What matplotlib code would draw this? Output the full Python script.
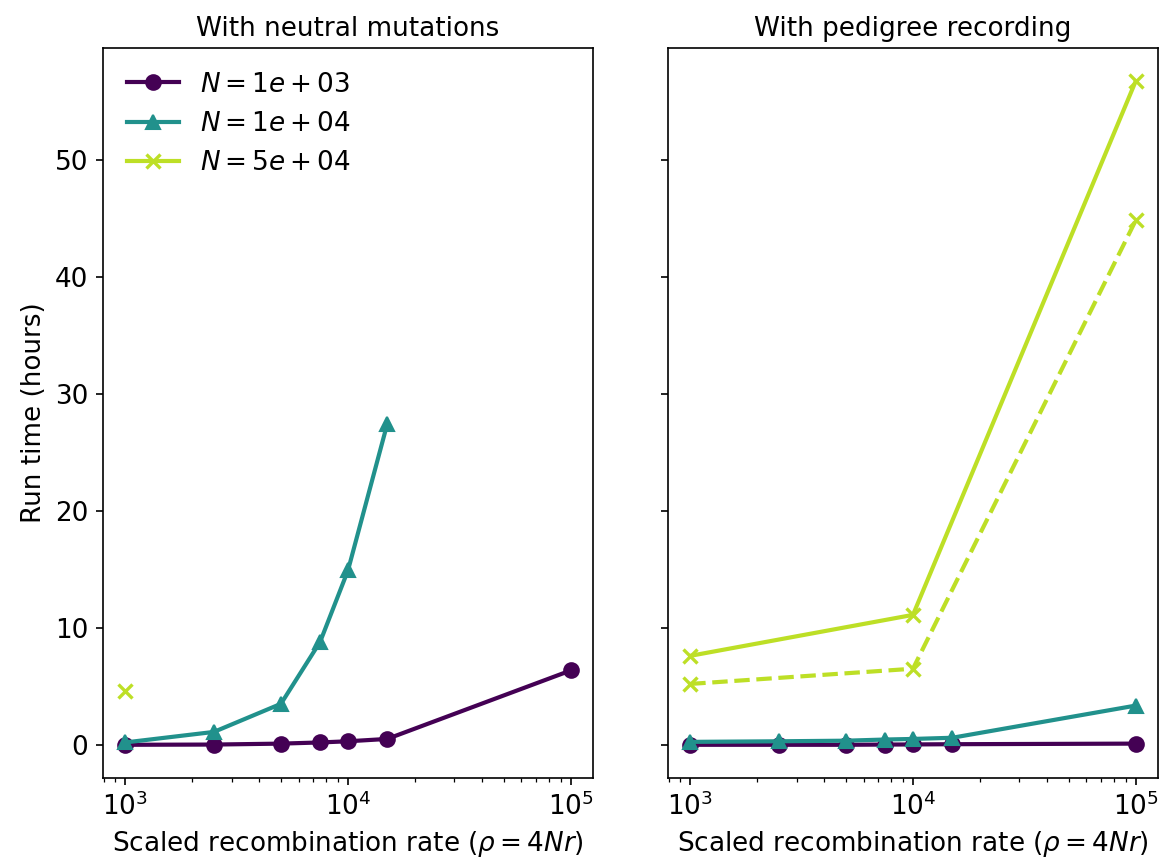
import matplotlib
matplotlib.use("Agg")
import matplotlib.pyplot as plt

rho = [1000, 2500, 5000, 7500, 10000, 15000, 100000]

# Left panel: with neutral mutations
left_n1e3 = [0.0, 0.02, 0.1, 0.2, 0.3, 0.5, 6.35]
left_n1e4_x = [1000, 2500, 5000, 7500, 10000, 15000]
left_n1e4 = [0.2, 1.1, 3.5, 8.8, 14.9, 27.4]
left_n5e4_x = [1000]
left_n5e4 = [4.6]

# Right panel: with pedigree recording
right_n1e3 = [0.0, 0.0, 0.0, 0.02, 0.03, 0.05, 0.1]
right_n1e4 = [0.25, 0.3, 0.35, 0.45, 0.5, 0.6, 3.35]
right_n5e4_x = [1000, 10000, 100000]
right_n5e4 = [7.6, 11.1, 56.7]
right_n5e4_dashed = [5.2, 6.5, 44.8]

labels = [r"$N = 1e+03$", r"$N = 1e+04$", r"$N = 5e+04$"]
colors = ["#440154", "#21918c", "#bddf26"]
markers = ["o", "^", "x"]
titles = ["With neutral mutations", "With pedigree recording"]

fs = 12.6
fig, axes = plt.subplots(1, 2, figsize=(7.74, 5.767), dpi=150, sharey=True)
lw = 2
ms = 7
mew = 1.6

ax = axes[0]
ax.plot(rho, left_n1e3, color=colors[0], marker=markers[0], lw=lw, ms=ms, label=labels[0])
ax.plot(left_n1e4_x, left_n1e4, color=colors[1], marker=markers[1], lw=lw, ms=ms, label=labels[1])
ax.plot(left_n5e4_x, left_n5e4, color=colors[2], marker=markers[2], lw=lw, ms=ms, mew=mew, label=labels[2])
ax.legend(loc="upper left", frameon=False, fontsize=fs)

ax = axes[1]
ax.plot(rho, right_n1e3, color=colors[0], marker=markers[0], lw=lw, ms=ms)
ax.plot(rho, right_n1e4, color=colors[1], marker=markers[1], lw=lw, ms=ms)
ax.plot(right_n5e4_x, right_n5e4, color=colors[2], marker=markers[2], lw=lw, ms=ms, mew=mew)
ax.plot(right_n5e4_x, right_n5e4_dashed, color=colors[2], marker=markers[2], lw=lw, ms=ms, mew=mew, ls="--")

for ax, t in zip(axes, titles):
    ax.set_xscale("log")
    ax.set_title(t, fontsize=fs)
    ax.set_xlabel(r"Scaled recombination rate ($\rho = 4Nr$)", fontsize=fs)
    ax.tick_params(labelsize=fs)
axes[0].set_ylabel("Run time (hours)", fontsize=fs)

fig.subplots_adjust(left=0.0887, right=0.9974, top=0.9445, bottom=0.1006, wspace=0.153)
fig.savefig("out.png", dpi=150)
